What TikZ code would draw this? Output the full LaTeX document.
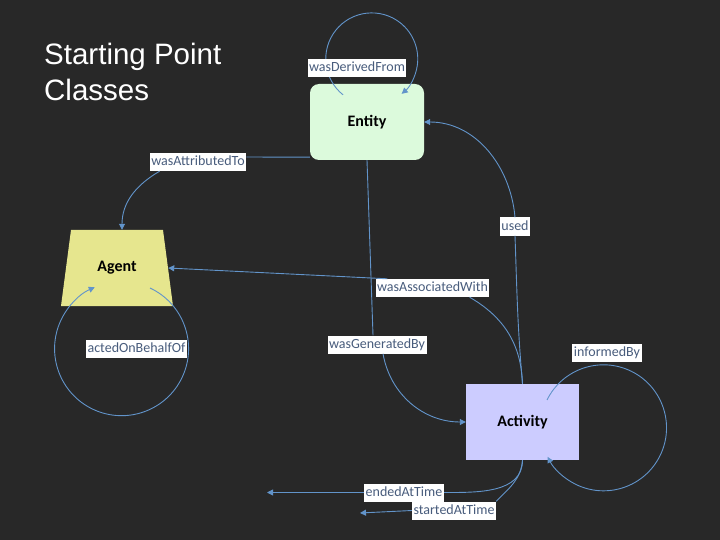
\documentclass[tikz,border=0pt]{standalone}
\usepackage{fontspec}
\setmainfont{Carlito}
\newfontfamily\titlefont{Liberation Sans}
\usetikzlibrary{arrows.meta,shapes.geometric}

\definecolor{bg}{RGB}{40,40,40}
\definecolor{linkblue}{RGB}{98,148,202}
\definecolor{reltext}{RGB}{72,92,124}
\definecolor{entityfill}{RGB}{220,250,220}
\definecolor{agentfill}{RGB}{230,230,142}
\definecolor{activityfill}{RGB}{204,204,255}

\begin{document}
\begin{tikzpicture}[x=1pt,y=1pt]
	\tikzstyle{classbox}=[draw=none,minimum width=114pt,minimum height=76pt,inner sep=0pt,font=\fontsize{16}{18}\selectfont\bfseries,text=black]
	\tikzstyle{rel}=[fill=white,text=reltext,font=\fontsize{14}{16}\selectfont,inner xsep=1.5pt,inner ysep=2pt,text height=10.5pt,text depth=3.5pt]
	\tikzstyle{link}=[draw=linkblue,line width=0.9pt]
	\tikzstyle{relarrow}=[-{Triangle[length=6pt,width=6pt]}]

	\fill[bg] (0,0) rectangle (720,-540);
	\useasboundingbox (0,0) rectangle (720,-540);

	% title
	\node[anchor=north west,inner sep=0pt,align=left,text=white,font=\titlefont\fontsize{29.5}{36}\selectfont] (title) at (44,-43) {Starting Point\\Classes};

	% classes
	\node[classbox,rounded corners=9pt,fill=entityfill] (entity) at (367,-122) {Entity};
	\node[classbox,trapezium,trapezium angle=82.5,trapezium stretches body,minimum width=112pt,inner ysep=30.5pt,text height=11pt,text depth=4pt,fill=agentfill] (agent) at (117,-268) {Agent};
	\node[classbox,minimum width=113pt,fill=activityfill] (activity) at (522.5,-422) {Activity};

	% self loops
	\draw[link,relarrow] ([xshift=-24pt,yshift=-11pt]entity.north) arc[start angle=231.3,end angle=-49.4,radius=46];
	\draw[link,relarrow] ([xshift=33pt,yshift=-20pt]agent.center) arc[start angle=64.9,end angle=-246.4,radius=67];
	\draw[link,relarrow] ([xshift=24.5pt,yshift=22pt]activity.center) arc[start angle=153.8,end angle=-152.6,radius=63];

	% relations
	\node[rel] (derived) at (357,-68.5) {wasDerivedFrom};
	\node[rel] (behalf) at (136.5,-349) {actedOnBehalfOf};
	\node[rel] (informed) at (607,-353) {informedBy};
	\node[rel] (attr) at (198,-162) {wasAttributedTo};
	\node[rel] (used) at (515,-226.5) {used};
	\node[rel] (assoc) at (432.5,-288) {wasAssociatedWith};
	\node[rel] (gen) at (377,-344.5) {wasGeneratedBy};
	\node[rel] (ended) at (404,-492.5) {endedAtTime};
	\node[rel] (started) at (454,-510.5) {startedAtTime};
	\coordinate (endtip) at (267,-492.5);
	\coordinate (starttip) at (360,-513);

	\draw[link] ([yshift=3pt]entity.south west) -- ([yshift=5pt]attr.east);
	\draw[link,relarrow] ([xshift=10pt]attr.south west) to[out=-150,in=90] ([xshift=5pt]agent.north);
	\draw[link] (activity.north) to[out=95,in=-88] (used.south);
	\draw[link,relarrow] (used.north) to[out=95,in=0] (entity.east);
	\draw[link] (activity.north) to[out=92,in=-30] ([xshift=-20pt]assoc.south east);
	\draw[link,relarrow] ([xshift=12pt]assoc.north west) -- (agent.east);
	\draw[link] (entity.south) -- ([xshift=-4pt]gen.north);
	\draw[link,relarrow] ([xshift=6pt]gen.south) to[out=-80,in=180] (activity.west);
	\draw[link] (activity.south) to[out=-90,in=0] (ended.east);
	\draw[link,relarrow] (ended.west) -- (endtip);
	\draw[link] (activity.south) to[out=-95,in=45] (started.north east);
	\draw[link,relarrow] (started.west) -- (starttip);
\end{tikzpicture}
\end{document}
